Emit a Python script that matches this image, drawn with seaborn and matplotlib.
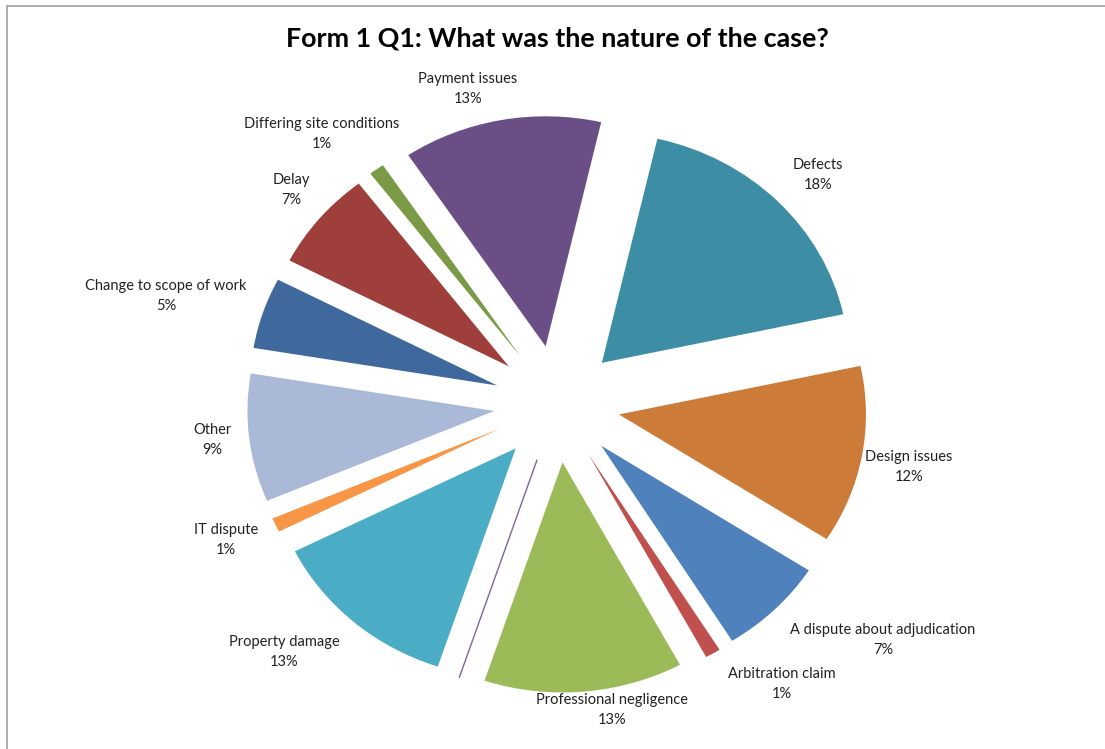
import matplotlib
matplotlib.use("Agg")
import matplotlib.pyplot as plt
from matplotlib.lines import Line2D
import seaborn as sns

# ---- data ----
categories = ["Defects", "Design issues", "A dispute about adjudication",
              "Arbitration claim", "Professional negligence", "",
              "Property damage", "IT dispute", "Other",
              "Change to scope of work", "Delay",
              "Differing site conditions", "Payment issues"]
values = [18, 12.5, 7, 1, 13, 0, 12.5, 1, 9, 5, 7, 1, 13]
pct_labels = ["18%", "12%", "7%", "1%", "13%", "", "13%", "1%", "9%",
              "5%", "7%", "1%", "13%"]
title = "Form 1 Q1: What was the nature of the case?"

# ---- style ----
colors = ["#3D8EA5", "#CC7B38", "#4F81BD", "#C0504D", "#9BBB59", "#8064A2",
          "#4BACC6", "#F79646", "#AAB9D7", "#3F689C", "#9F3F3C", "#7B9A45",
          "#6A4F86"]
# label centres in image pixels (layout only)
label_pos = [(818, 175), (909, 467), (883, 640), (782, 684), (612, 710), None,
             (284, 652), (226, 540), (212, 440), (166, 296), (291, 190),
             (322, 134), (468, 89)]

sns.set_theme(style="white")
plt.rcParams["font.family"] = ["Lato", "DejaVu Sans"]

W, H = 1105, 749
fig = plt.figure(figsize=(W / 100, H / 100), dpi=100)
ax = fig.add_axes([0, 0, 1, 1])

cx, cy = 557, 404      # pie centre in pixels
rx, ry = 247, 230      # radius in pixels (horizontal / vertical)

wedges, _ = ax.pie(values, colors=colors, startangle=77, counterclock=False,
                   explode=[0.255] * len(values), radius=1,
                   wedgeprops=dict(linewidth=0))
wedges[5].set_edgecolor(colors[5])
wedges[5].set_linewidth(1.0)

ax.set_aspect("auto")
ax.set_xlim((0 - cx) / rx, (W - cx) / rx)
ax.set_ylim((cy - H) / ry, (cy - 0) / ry)
ax.axis("off")

for name, pct, pos in zip(categories, pct_labels, label_pos):
    if pos is None:
        continue
    fig.text(pos[0] / W, 1 - pos[1] / H, f"{name}\n{pct}", ha="center",
             va="center", fontsize=10.5, color="#222222", linespacing=1.5)

fig.text(557 / W, 1 - 38 / H, title, ha="center", va="center",
         fontsize=19.4, fontweight="bold", color="black")

# chart border (left and top edges visible)
fig.add_artist(Line2D([7 / W, 7 / W], [0, 1 - 6 / H], color="#A0A0A0",
                      linewidth=1.2, transform=fig.transFigure))
fig.add_artist(Line2D([7 / W, 1], [1 - 6 / H, 1 - 6 / H], color="#A0A0A0",
                      linewidth=1.2, transform=fig.transFigure))

fig.savefig("out.png", dpi=100, facecolor="white")
